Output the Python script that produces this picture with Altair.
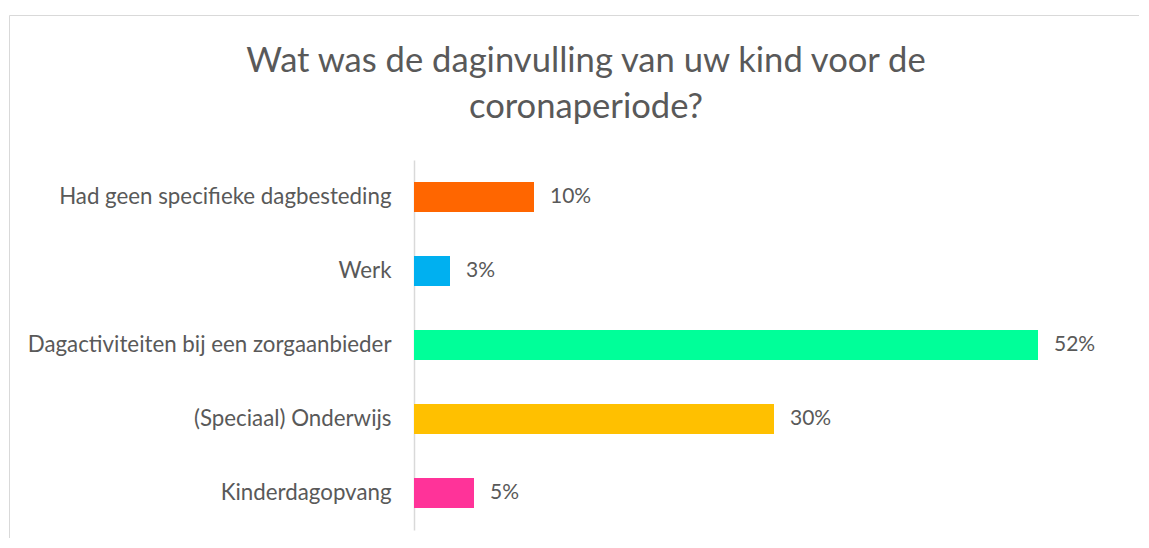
import altair as alt
import pandas as pd

categories = [
    "Had geen specifieke dagbesteding",
    "Werk",
    "Dagactiviteiten bij een zorgaanbieder",
    "(Speciaal) Onderwijs",
    "Kinderdagopvang",
]
values = [10, 3, 52, 30, 5]
colors = ["#FF6600", "#00B0F0", "#00FF99", "#FFC000", "#FF3399"]
title_lines = ["Wat was de daginvulling van uw kind voor de", "coronaperiode?"]

df = pd.DataFrame({"cat": categories, "pct": values, "color": colors})

FONT = "Lato"
TXT = "#595959"

y_enc = alt.Y(
    "cat:N",
    sort=categories,
    scale=alt.Scale(paddingInner=0.595, paddingOuter=0.2975),
    axis=alt.Axis(
        title=None,
        ticks=False,
        tickSize=0,
        labelPadding=23,
        labelFont=FONT,
        labelFontSize=22.3,
        labelColor=TXT,
        labelLimit=500,
        domainColor="#d9d9d9",
        domainWidth=1.5,
        grid=False,
    ),
)
x_enc = alt.X("pct:Q", scale=alt.Scale(domain=[0, 60]), axis=None)

border = alt.Chart(pd.DataFrame({"a": [0]})).mark_rect(
    fill=None, stroke="#d9d9d9", strokeWidth=1
).encode(
    x=alt.value(-404.5), x2=alt.value(900), y=alt.value(-144.5), y2=alt.value(500)
)

bars = alt.Chart(df).mark_bar().encode(
    x=x_enc,
    y=y_enc,
    color=alt.Color("color:N", scale=None),
)

labels = alt.Chart(df).transform_calculate(
    label="datum.pct + '%'"
).mark_text(
    align="left", baseline="middle", dx=16, font=FONT, fontSize=21, color=TXT
).encode(
    x=x_enc,
    y=y_enc,
    text="label:N",
)

chart = alt.layer(border, bars, labels).properties(
    width=720,
    height=370,
    title=alt.TitleParams(
        text=title_lines,
        anchor="middle",
        frame="group",
        font=FONT,
        fontSize=34.6,
        fontWeight="normal",
        color=TXT,
        lineHeight=46,
        dx=-188,
        dy=111,
        offset=0,
    ),
    autosize=alt.AutoSizeParams(type="none"),
    padding={"left": 406, "top": 152, "right": 5, "bottom": 8},
).configure_view(stroke=None)

chart.save("out.html", embed_options={"renderer": "svg", "actions": False})
